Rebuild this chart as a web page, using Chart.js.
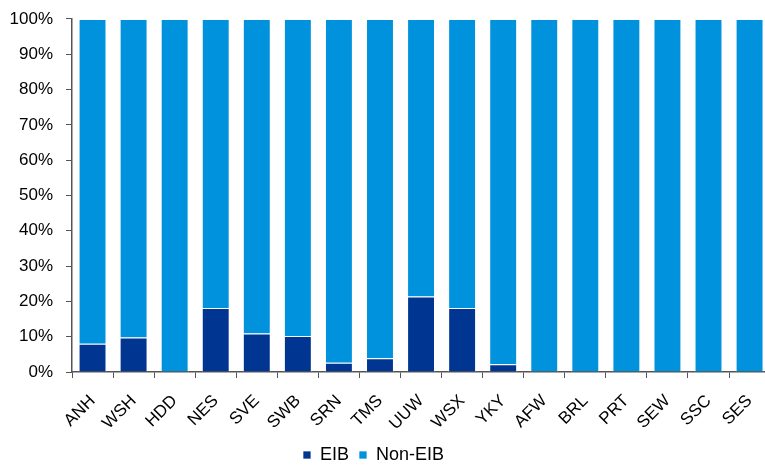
<!DOCTYPE html>
<html>
<head>
<meta charset="utf-8">
<script src="https://cdn.jsdelivr.net/npm/chart.js@4/dist/chart.umd.min.js"></script>
<style>
  html, body { margin: 0; padding: 0; background: #ffffff; overflow: hidden; }
  #wrap { width: 765px; height: 467px; position: relative; overflow: hidden; }
  #c { position: absolute; left: 0; top: 0; }
</style>
</head>
<body>
<div id="wrap"><canvas id="c" width="777" height="467"></canvas></div>
<script>
const categories = ["ANH","WSH","HDD","NES","SVE","SWB","SRN","TMS","UUW","WSX","YKY","AFW","BRL","PRT","SEW","SSC","SES"];
const eib    = [8.0, 9.8, 0, 18.1, 10.9, 10.2, 2.6, 3.9, 21.4, 18.1, 2.2, 0, 0, 0, 0, 0, 0];
const nonEib = [92.0, 90.2, 100, 81.9, 89.1, 89.8, 97.4, 96.1, 78.6, 81.9, 97.8, 100, 100, 100, 100, 100, 100];
const yTicks = [0,10,20,30,40,50,60,70,80,90,100];

const FONT = "'Liberation Sans', Arial, sans-serif";
Chart.defaults.font.family = FONT;
Chart.defaults.color = '#000000';

const legendTweak = {
  id: 'legendTweak',
  afterInit(chart) {
    const lg = chart.legend;
    const origFit = lg.fit.bind(lg);
    lg.fit = function () { origFit(); this.height = 31; };
  },
  afterLayout(chart) {
    const lg = chart.legend;
    lg.left -= 15; lg.right -= 15;
  }
};

new Chart(document.getElementById('c'), {
  type: 'bar',
  plugins: [legendTweak],
  data: {
    labels: categories,
    datasets: [
      { label: 'EIB', data: eib, backgroundColor: '#003591', borderColor: 'rgba(255,255,255,0.7)', borderWidth: 1 },
      { label: 'Non-EIB', data: nonEib, backgroundColor: '#0092DC', borderColor: 'rgba(255,255,255,0.7)', borderWidth: 1 }
    ]
  },
  options: {
    responsive: false,
    animation: false,
    devicePixelRatio: 1,
    layout: { padding: { top: 0, right: 0, left: 0, bottom: 0 } },
    datasets: { bar: { categoryPercentage: 1, barPercentage: 0.68 } },
    plugins: {
      legend: {
        position: 'bottom',
        labels: { boxWidth: 8, boxHeight: 8, font: { size: 18 }, color: '#000000', padding: 10 }
      },
      tooltip: { enabled: false }
    },
    scales: {
      x: {
        stacked: true,
        afterFit: (axis) => { axis.height = 64; },
        grid: { display: true, drawOnChartArea: false, drawTicks: true, tickLength: 6, color: '#555555', offset: true },
        border: { display: true, color: '#555555', width: 1.5 },
        ticks: { maxRotation: 45, minRotation: 45, font: { size: 17 }, color: '#000000', padding: 13, autoSkip: false }
      },
      y: {
        stacked: true,
        min: 0, max: 100,
        afterFit: (axis) => { axis.width = 72; },
        afterBuildTicks: (axis) => { axis.ticks = yTicks.map(v => ({ value: v })); },
        grid: { display: true, drawOnChartArea: false, drawTicks: true, tickLength: 6, color: '#555555' },
        border: { display: true, color: '#555555', width: 1.5 },
        ticks: { font: { size: 17, lineHeight: 0.7 }, color: '#000000', padding: 13, callback: (v) => v + '%' }
      }
    }
  }
});
</script>
</body>
</html>
